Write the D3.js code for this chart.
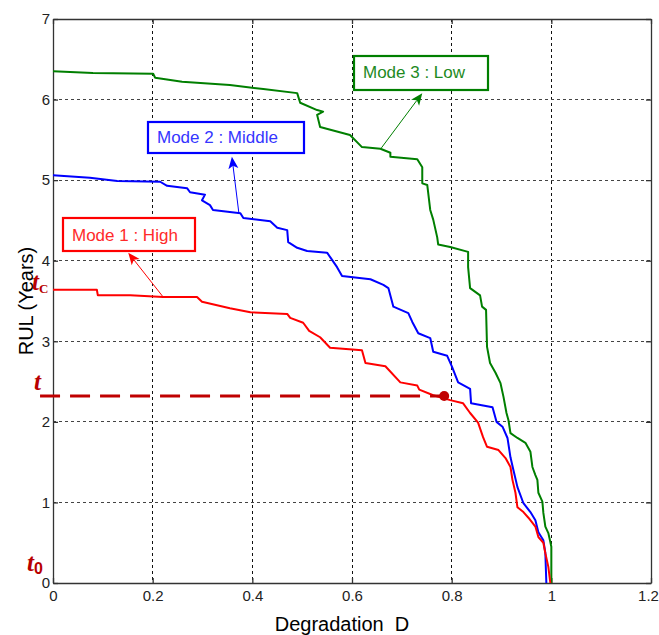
<!DOCTYPE html>
<html><head><meta charset="utf-8">
<script src="https://cdn.jsdelivr.net/npm/d3@7"></script>
<style>body{margin:0;background:#fff}svg{display:block}</style>
</head><body><svg id="c" width="659" height="635"></svg>
<script>
// ---------- data ----------
const xTicks = [0, 0.2, 0.4, 0.6, 0.8, 1, 1.2];
const xTickLabels = ["0", "0.2", "0.4", "0.6", "0.8", "1", "1.2"];
const yTicks = [0, 1, 2, 3, 4, 5, 6, 7];
const yTickLabels = ["0", "1", "2", "3", "4", "5", "6", "7"];

const seriesNames = ["Mode 1 : High", "Mode 2 : Middle", "Mode 3 : Low"];

const mode1D = [0, 0.088, 0.090, 0.155, 0.221, 0.289, 0.299, 0.355, 0.396, 0.470, 0.476, 0.502, 0.514, 0.536, 0.556, 0.620, 0.627, 0.667, 0.697, 0.731, 0.735, 0.763, 0.797, 0.823, 0.837, 0.853, 0.863, 0.871, 0.894, 0.908, 0.918, 0.922, 0.928, 0.932, 0.944, 0.954, 0.968, 0.974, 0.984, 0.988, 0.994, 0.998];
const mode1RUL = [3.64, 3.64, 3.57, 3.57, 3.55, 3.55, 3.49, 3.41, 3.36, 3.34, 3.29, 3.23, 3.13, 3.05, 2.92, 2.89, 2.73, 2.69, 2.49, 2.45, 2.40, 2.33, 2.27, 2.23, 2.11, 1.99, 1.81, 1.69, 1.65, 1.55, 1.44, 1.28, 1.12, 0.94, 0.88, 0.81, 0.70, 0.57, 0.50, 0.37, 0.20, 0];

const mode2D = [0, 0.074, 0.129, 0.215, 0.229, 0.269, 0.275, 0.305, 0.299, 0.315, 0.321, 0.376, 0.382, 0.436, 0.450, 0.470, 0.472, 0.490, 0.510, 0.550, 0.560, 0.570, 0.580, 0.637, 0.663, 0.673, 0.683, 0.713, 0.721, 0.733, 0.757, 0.763, 0.791, 0.801, 0.813, 0.837, 0.839, 0.882, 0.890, 0.902, 0.912, 0.918, 0.924, 0.932, 0.944, 0.958, 0.968, 0.974, 0.984, 0.988, 0.990];
const mode2RUL = [5.06, 5.03, 4.99, 4.98, 4.93, 4.90, 4.85, 4.82, 4.75, 4.69, 4.63, 4.59, 4.53, 4.49, 4.41, 4.38, 4.23, 4.16, 4.12, 4.10, 4.01, 3.92, 3.81, 3.77, 3.70, 3.66, 3.43, 3.35, 3.24, 3.10, 3.04, 2.87, 2.82, 2.68, 2.49, 2.41, 2.23, 2.18, 2.00, 1.94, 1.80, 1.56, 1.40, 1.19, 0.99, 0.88, 0.78, 0.63, 0.53, 0.37, 0];

const mode3D = [0, 0.080, 0.201, 0.205, 0.259, 0.355, 0.422, 0.490, 0.496, 0.530, 0.542, 0.530, 0.536, 0.596, 0.620, 0.657, 0.677, 0.677, 0.731, 0.741, 0.741, 0.751, 0.757, 0.763, 0.771, 0.773, 0.797, 0.833, 0.833, 0.837, 0.857, 0.861, 0.869, 0.871, 0.877, 0.888, 0.898, 0.904, 0.910, 0.914, 0.918, 0.932, 0.948, 0.958, 0.962, 0.968, 0.972, 0.974, 0.982, 0.984, 0.988, 0.994, 0.998, 1.0, 1.0];
const mode3RUL = [6.35, 6.33, 6.32, 6.27, 6.22, 6.18, 6.13, 6.08, 5.96, 5.87, 5.85, 5.81, 5.66, 5.56, 5.41, 5.39, 5.34, 5.29, 5.26, 5.16, 4.96, 4.94, 4.63, 4.51, 4.29, 4.20, 4.17, 4.11, 3.92, 3.66, 3.57, 3.43, 3.39, 2.93, 2.73, 2.61, 2.48, 2.31, 2.11, 2.02, 1.86, 1.80, 1.74, 1.63, 1.44, 1.34, 1.28, 1.12, 1.01, 0.87, 0.70, 0.62, 0.51, 0.45, 0];

// operating point t on Mode 1 and the dashed reference line
const pointD = [0.785];
const pointRUL = [2.32];
const dashStartD = [-0.026];

// annotation arrow anchors (tail on curve, tip at box) in data units
const arrowTailD = [0.221, 0.373, 0.659];
const arrowTailRUL = [3.55, 4.59, 5.40];
const arrowTipD = [0.151, 0.359, 0.741];
const arrowTipRUL = [4.10, 5.29, 6.08];

// ---------- drawing ----------
const M = {left: 53, right: 651, top: 19, bottom: 583};
const x = d3.scaleLinear().domain([0, 1.2]).range([M.left, M.right]);
const y = d3.scaleLinear().domain([0, 7]).range([M.bottom, M.top]);
const svg = d3.select("#c");
const FONT = "'Liberation Sans', Arial, Helvetica, sans-serif";

const colors = ["#ff0000", "#0000ff", "#007f00"];
const textColors = ["#ff2a2a", "#3535ff", "#1e8a1e"];

// grid
const grid = svg.append("g");
grid.selectAll("line.v").data(xTicks.filter(d => d > 0 && d < 1.2)).join("line")
  .attr("x1", d => x(d)).attr("x2", d => x(d))
  .attr("y1", M.top).attr("y2", M.bottom)
  .attr("stroke", "#111").attr("stroke-width", 1).attr("stroke-dasharray", "3,3")
  .attr("shape-rendering", "crispEdges");
grid.selectAll("line.h").data(yTicks.filter(d => d > 0 && d < 7)).join("line")
  .attr("x1", M.left).attr("x2", M.right)
  .attr("y1", d => y(d)).attr("y2", d => y(d))
  .attr("stroke", "#444").attr("stroke-width", 1).attr("stroke-dasharray", "3,3")
  .attr("shape-rendering", "crispEdges");

// axes
function styleAxis(g) {
  g.selectAll(".domain").attr("stroke", "#333").attr("stroke-width", 1.3);
  g.selectAll(".tick line").attr("stroke", "#333").attr("stroke-width", 1.3);
  g.selectAll("text").attr("font-family", FONT).attr("font-size", 15).attr("fill", "#222");
}
const xAxisG = svg.append("g").attr("transform", `translate(0,${M.bottom})`)
  .call(d3.axisBottom(x).tickValues(xTicks).tickFormat((d, i) => xTickLabels[i])
    .tickSizeInner(-5).tickSizeOuter(0).tickPadding(7))
  .call(styleAxis);
// keep the last label inside the window
xAxisG.selectAll(".tick text").filter(d => d === 1.2).attr("dx", -3);
svg.append("g").attr("transform", `translate(0,${M.top})`)
  .call(d3.axisTop(x).tickValues(xTicks).tickFormat("").tickSizeInner(-5).tickSizeOuter(0))
  .call(styleAxis);
svg.append("g").attr("transform", `translate(${M.left},0)`)
  .call(d3.axisLeft(y).tickValues(yTicks).tickFormat((d, i) => yTickLabels[i])
    .tickSizeInner(-5).tickSizeOuter(0).tickPadding(3))
  .call(styleAxis);
svg.append("g").attr("transform", `translate(${M.right},0)`)
  .call(d3.axisRight(y).tickValues(yTicks).tickFormat("").tickSizeInner(-5).tickSizeOuter(0))
  .call(styleAxis);

// axis titles
svg.append("text").attr("x", 342).attr("y", 631).attr("text-anchor", "middle")
  .attr("font-family", FONT).attr("font-size", 20).attr("fill", "#000")
  .style("white-space", "pre").attr("xml:space", "preserve").text("Degradation  D");
svg.append("text").attr("transform", `translate(33,${(M.top + M.bottom) / 2}) rotate(-90)`)
  .attr("text-anchor", "middle")
  .attr("font-family", FONT).attr("font-size", 20).attr("fill", "#000")
  .text("RUL (Years)");

// curves
const series = [
  {D: mode3D, R: mode3RUL, c: colors[2]},
  {D: mode2D, R: mode2RUL, c: colors[1]},
  {D: mode1D, R: mode1RUL, c: colors[0]}
];
const line = d3.line().x(d => x(d[0])).y(d => y(d[1]));
series.forEach(s => {
  svg.append("path").datum(s.D.map((d, i) => [d, s.R[i]]))
    .attr("d", line).attr("fill", "none").attr("stroke", s.c)
    .attr("stroke-width", 2).attr("stroke-linejoin", "round");
});

// dashed reference line and point
svg.append("line")
  .attr("x1", x(dashStartD[0])).attr("x2", x(pointD[0]))
  .attr("y1", y(pointRUL[0])).attr("y2", y(pointRUL[0]))
  .attr("stroke", "#c00000").attr("stroke-width", 3).attr("stroke-dasharray", "20,10");
svg.append("circle").attr("cx", x(pointD[0])).attr("cy", y(pointRUL[0])).attr("r", 5)
  .attr("fill", "#c00000");

// red t labels
const SERIF = "'Liberation Serif', 'Times New Roman', serif";
const tc = svg.append("text").attr("x", 32).attr("y", 290).attr("fill", "#b80000");
tc.append("tspan").attr("font-family", SERIF).attr("font-size", 25).attr("font-weight", "bold").attr("font-style", "italic").text("t");
tc.append("tspan").attr("font-family", SERIF).attr("font-size", 13).attr("font-weight", "bold").attr("dy", 3).text("C");
svg.append("text").attr("x", 34).attr("y", 390).attr("fill", "#b80000")
  .attr("font-family", SERIF).attr("font-size", 25).attr("font-weight", "bold").attr("font-style", "italic").text("t");
const t0 = svg.append("text").attr("x", 27).attr("y", 571).attr("fill", "#b80000");
t0.append("tspan").attr("font-family", SERIF).attr("font-size", 25).attr("font-weight", "bold").attr("font-style", "italic").text("t");
t0.append("tspan").attr("font-family", FONT).attr("font-size", 16).attr("font-weight", "bold").attr("dy", 3).text("0");

// annotations
const boxes = [
  {x0: 63, y0: 218, w: 132, h: 33, tx: 72, ty: 241},
  {x0: 148, y0: 122, w: 156, h: 31, tx: 157, ty: 143},
  {x0: 354, y0: 56, w: 134, h: 34, tx: 363, ty: 78}
];
boxes.forEach((b, i) => {
  svg.append("rect").attr("x", b.x0).attr("y", b.y0).attr("width", b.w).attr("height", b.h)
    .attr("fill", "#fff").attr("stroke", colors[i]).attr("stroke-width", 2.2);
  svg.append("text").attr("x", b.tx).attr("y", b.ty)
    .attr("font-family", FONT).attr("font-size", 17).attr("fill", textColors[i])
    .text(seriesNames[i]);
  const x1 = x(arrowTailD[i]), y1 = y(arrowTailRUL[i]);
  const x2 = x(arrowTipD[i]), y2 = y(arrowTipRUL[i]);
  const ang = Math.atan2(y2 - y1, x2 - x1);
  const L = 12, hw = 5, notch = 3;
  const bx = x2 - L * Math.cos(ang), by = y2 - L * Math.sin(ang);
  const nx = x2 - (L - notch) * Math.cos(ang), ny = y2 - (L - notch) * Math.sin(ang);
  const px = -Math.sin(ang), py = Math.cos(ang);
  svg.append("line").attr("x1", x1).attr("y1", y1).attr("x2", nx).attr("y2", ny)
    .attr("stroke", colors[i]).attr("stroke-width", 1);
  svg.append("path")
    .attr("d", `M${x2},${y2}L${bx + px * hw},${by + py * hw}L${nx},${ny}L${bx - px * hw},${by - py * hw}Z`)
    .attr("fill", colors[i]);
});
</script>
</body></html>
